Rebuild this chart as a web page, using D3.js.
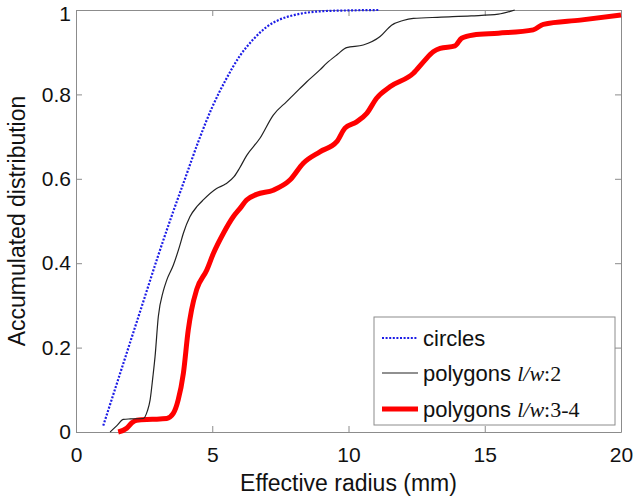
<!DOCTYPE html>
<html>
<head>
<meta charset="utf-8">
<script src="https://cdn.jsdelivr.net/npm/d3@7"></script>
<style>
  body { margin: 0; background: #fff; }
  text { font-family: "Liberation Sans", Arial, sans-serif; fill: #111; }
</style>
</head>
<body>
<div id="chart"></div>
<script>
// Data: [effective radius (mm), accumulated distribution]
var circles = [[1.0,0.015],[1.5,0.115],[2.0,0.215],[2.5,0.315],[3.0,0.415],[3.5,0.51],
  [4.0,0.6],[4.5,0.69],[5.0,0.77],[5.5,0.835],[6.0,0.89],[6.5,0.93],[7.0,0.96],
  [7.5,0.978],[8.0,0.988],[8.5,0.994],[9.0,0.997],[10.0,0.999],[11.1,1.0]];

var polygons2 = [[1.25,0],[1.5,0.015],[1.74,0.03],[2.0,0.031],[2.47,0.032],[2.62,0.05],
  [2.72,0.076],[2.82,0.13],[2.9,0.178],[3.02,0.273],[3.2,0.333],[3.33,0.36],[3.57,0.395],
  [3.8,0.44],[3.94,0.471],[4.18,0.51],[4.45,0.535],[4.67,0.55],[5.16,0.577],[5.5,0.588],
  [5.8,0.605],[6.0,0.625],[6.26,0.655],[6.75,0.696],[7.24,0.751],[7.73,0.783],[8.0,0.8],
  [8.47,0.83],[8.95,0.858],[9.2,0.874],[9.6,0.895],[9.93,0.911],[10.54,0.917],[11.16,0.937],
  [11.58,0.964],[12.0,0.975],[12.38,0.98],[13.4,0.983],[14.5,0.986],[15.5,0.99],[16.1,1.0]];

var polygons34 = [[1.55,0],[1.86,0.009],[2.05,0.022],[2.23,0.028],[2.8,0.03],[3.33,0.032],
  [3.57,0.044],[3.75,0.076],[3.94,0.139],[4.12,0.242],[4.24,0.289],[4.43,0.338],[4.8,0.384],
  [5.04,0.423],[5.41,0.471],[5.77,0.51],[6.02,0.53],[6.26,0.55],[6.63,0.563],[7.24,0.573],
  [7.85,0.597],[8.34,0.637],[8.95,0.664],[9.57,0.688],[9.87,0.72],[10.3,0.735],[10.67,0.755],
  [11.03,0.791],[11.52,0.818],[12.38,0.85],[12.75,0.877],[13.11,0.901],[13.36,0.909],
  [13.91,0.915],[14.15,0.933],[14.58,0.941],[15.5,0.945],[16.78,0.953],[17.15,0.966],
  [18.5,0.976],[20.0,0.988]];

var xTicks = [0, 5, 10, 15, 20];
var yTicks = [0, 0.2, 0.4, 0.6, 0.8, 1];
var yTickLabels = ["0", "0.2", "0.4", "0.6", "0.8", "1"];

var W = 636, H = 502;
var margin = {top: 10, right: 15, bottom: 70, left: 76};
var w = W - margin.left - margin.right,
    h = H - margin.top - margin.bottom;

var svg = d3.select("#chart").append("svg")
  .attr("width", W)
  .attr("height", H);

var g = svg.append("g")
  .attr("transform", "translate(" + margin.left + "," + margin.top + ")");

var x = d3.scaleLinear().domain([0, 20]).range([0, w]);
var y = d3.scaleLinear().domain([0, 1]).range([h, 0]);

// axes, matlab style box with inward ticks
function styleAxis(sel) {
  sel.select(".domain").attr("stroke", "#8c8c8c");
  sel.selectAll(".tick line").attr("stroke", "#8c8c8c");
  sel.selectAll(".tick text").style("font-size", "21px").attr("fill", "#111");
}

g.append("g")
  .attr("transform", "translate(0," + h + ")")
  .call(d3.axisBottom(x).tickValues(xTicks).tickSizeInner(-6).tickSizeOuter(0).tickPadding(15))
  .call(styleAxis);

g.append("g")
  .call(d3.axisTop(x).tickValues(xTicks).tickSizeInner(-6).tickSizeOuter(0).tickFormat(""))
  .call(styleAxis);

var yAxisG = g.append("g")
  .call(d3.axisLeft(y).tickValues(yTicks).tickSizeInner(-6).tickSizeOuter(0).tickPadding(5)
    .tickFormat(function(d, i) { return yTickLabels[i]; }))
  .call(styleAxis);

// the top label sits a little lower, as in the original
yAxisG.selectAll(".tick text")
  .filter(function(d) { return d === 1; })
  .attr("dy", "0.5em");

g.append("g")
  .attr("transform", "translate(" + w + ",0)")
  .call(d3.axisRight(y).tickValues(yTicks).tickSizeInner(-6).tickSizeOuter(0).tickFormat(""))
  .call(styleAxis);

// lines
var line = d3.line()
  .x(function(d) { return x(d[0]); })
  .y(function(d) { return y(d[1]); })
  .curve(d3.curveMonotoneX);

g.append("path")
  .datum(polygons34)
  .attr("fill", "none")
  .attr("stroke", "#ff0000")
  .attr("stroke-width", 5)
  .attr("stroke-linejoin", "round")
  .attr("d", line);

g.append("path")
  .datum(polygons2)
  .attr("fill", "none")
  .attr("stroke", "#222")
  .attr("stroke-width", 1.2)
  .attr("d", line);

g.append("path")
  .datum(circles)
  .attr("fill", "none")
  .attr("stroke", "#1c1ce6")
  .attr("stroke-width", 2.2)
  .attr("stroke-dasharray", "2,1.6")
  .attr("d", line);

// axis titles
svg.append("text")
  .attr("x", margin.left + w / 2)
  .attr("y", 491)
  .attr("text-anchor", "middle")
  .style("font-size", "23px")
  .text("Effective radius (mm)");

svg.append("text")
  .attr("transform", "rotate(-90)")
  .attr("x", -(margin.top + h / 2))
  .attr("y", 25)
  .attr("text-anchor", "middle")
  .style("font-size", "23px")
  .text("Accumulated distribution");

// legend
var legend = svg.append("g");
legend.append("rect")
  .attr("x", 374).attr("y", 317)
  .attr("width", 241).attr("height", 108)
  .attr("fill", "#fff")
  .attr("stroke", "#8c8c8c");

var legendItems = [
  {name: "circles", ratio: null, color: "#1c1ce6", width: 2.2, dash: "2,1.6", ly: 338},
  {name: "polygons ", ratio: ":2", color: "#222", width: 1.2, dash: null, ly: 373},
  {name: "polygons ", ratio: ":3-4", color: "#ff0000", width: 5, dash: null, ly: 409}
];

legendItems.forEach(function(d) {
  legend.append("line")
    .attr("x1", 382).attr("x2", 418)
    .attr("y1", d.ly).attr("y2", d.ly)
    .attr("stroke", d.color)
    .attr("stroke-width", d.width)
    .attr("stroke-dasharray", d.dash);
  var t = legend.append("text")
    .attr("x", 423)
    .attr("y", d.ly + 8)
    .attr("xml:space", "preserve")
    .style("font-size", "22px");
  t.append("tspan").text(d.name);
  if (d.ratio) {
    t.append("tspan")
      .style("font-family", "'Liberation Serif', serif")
      .style("font-style", "italic")
      .text("l/w");
    t.append("tspan")
      .style("font-family", "'Liberation Serif', serif")
      .text(d.ratio);
  }
});
</script>
</body>
</html>
